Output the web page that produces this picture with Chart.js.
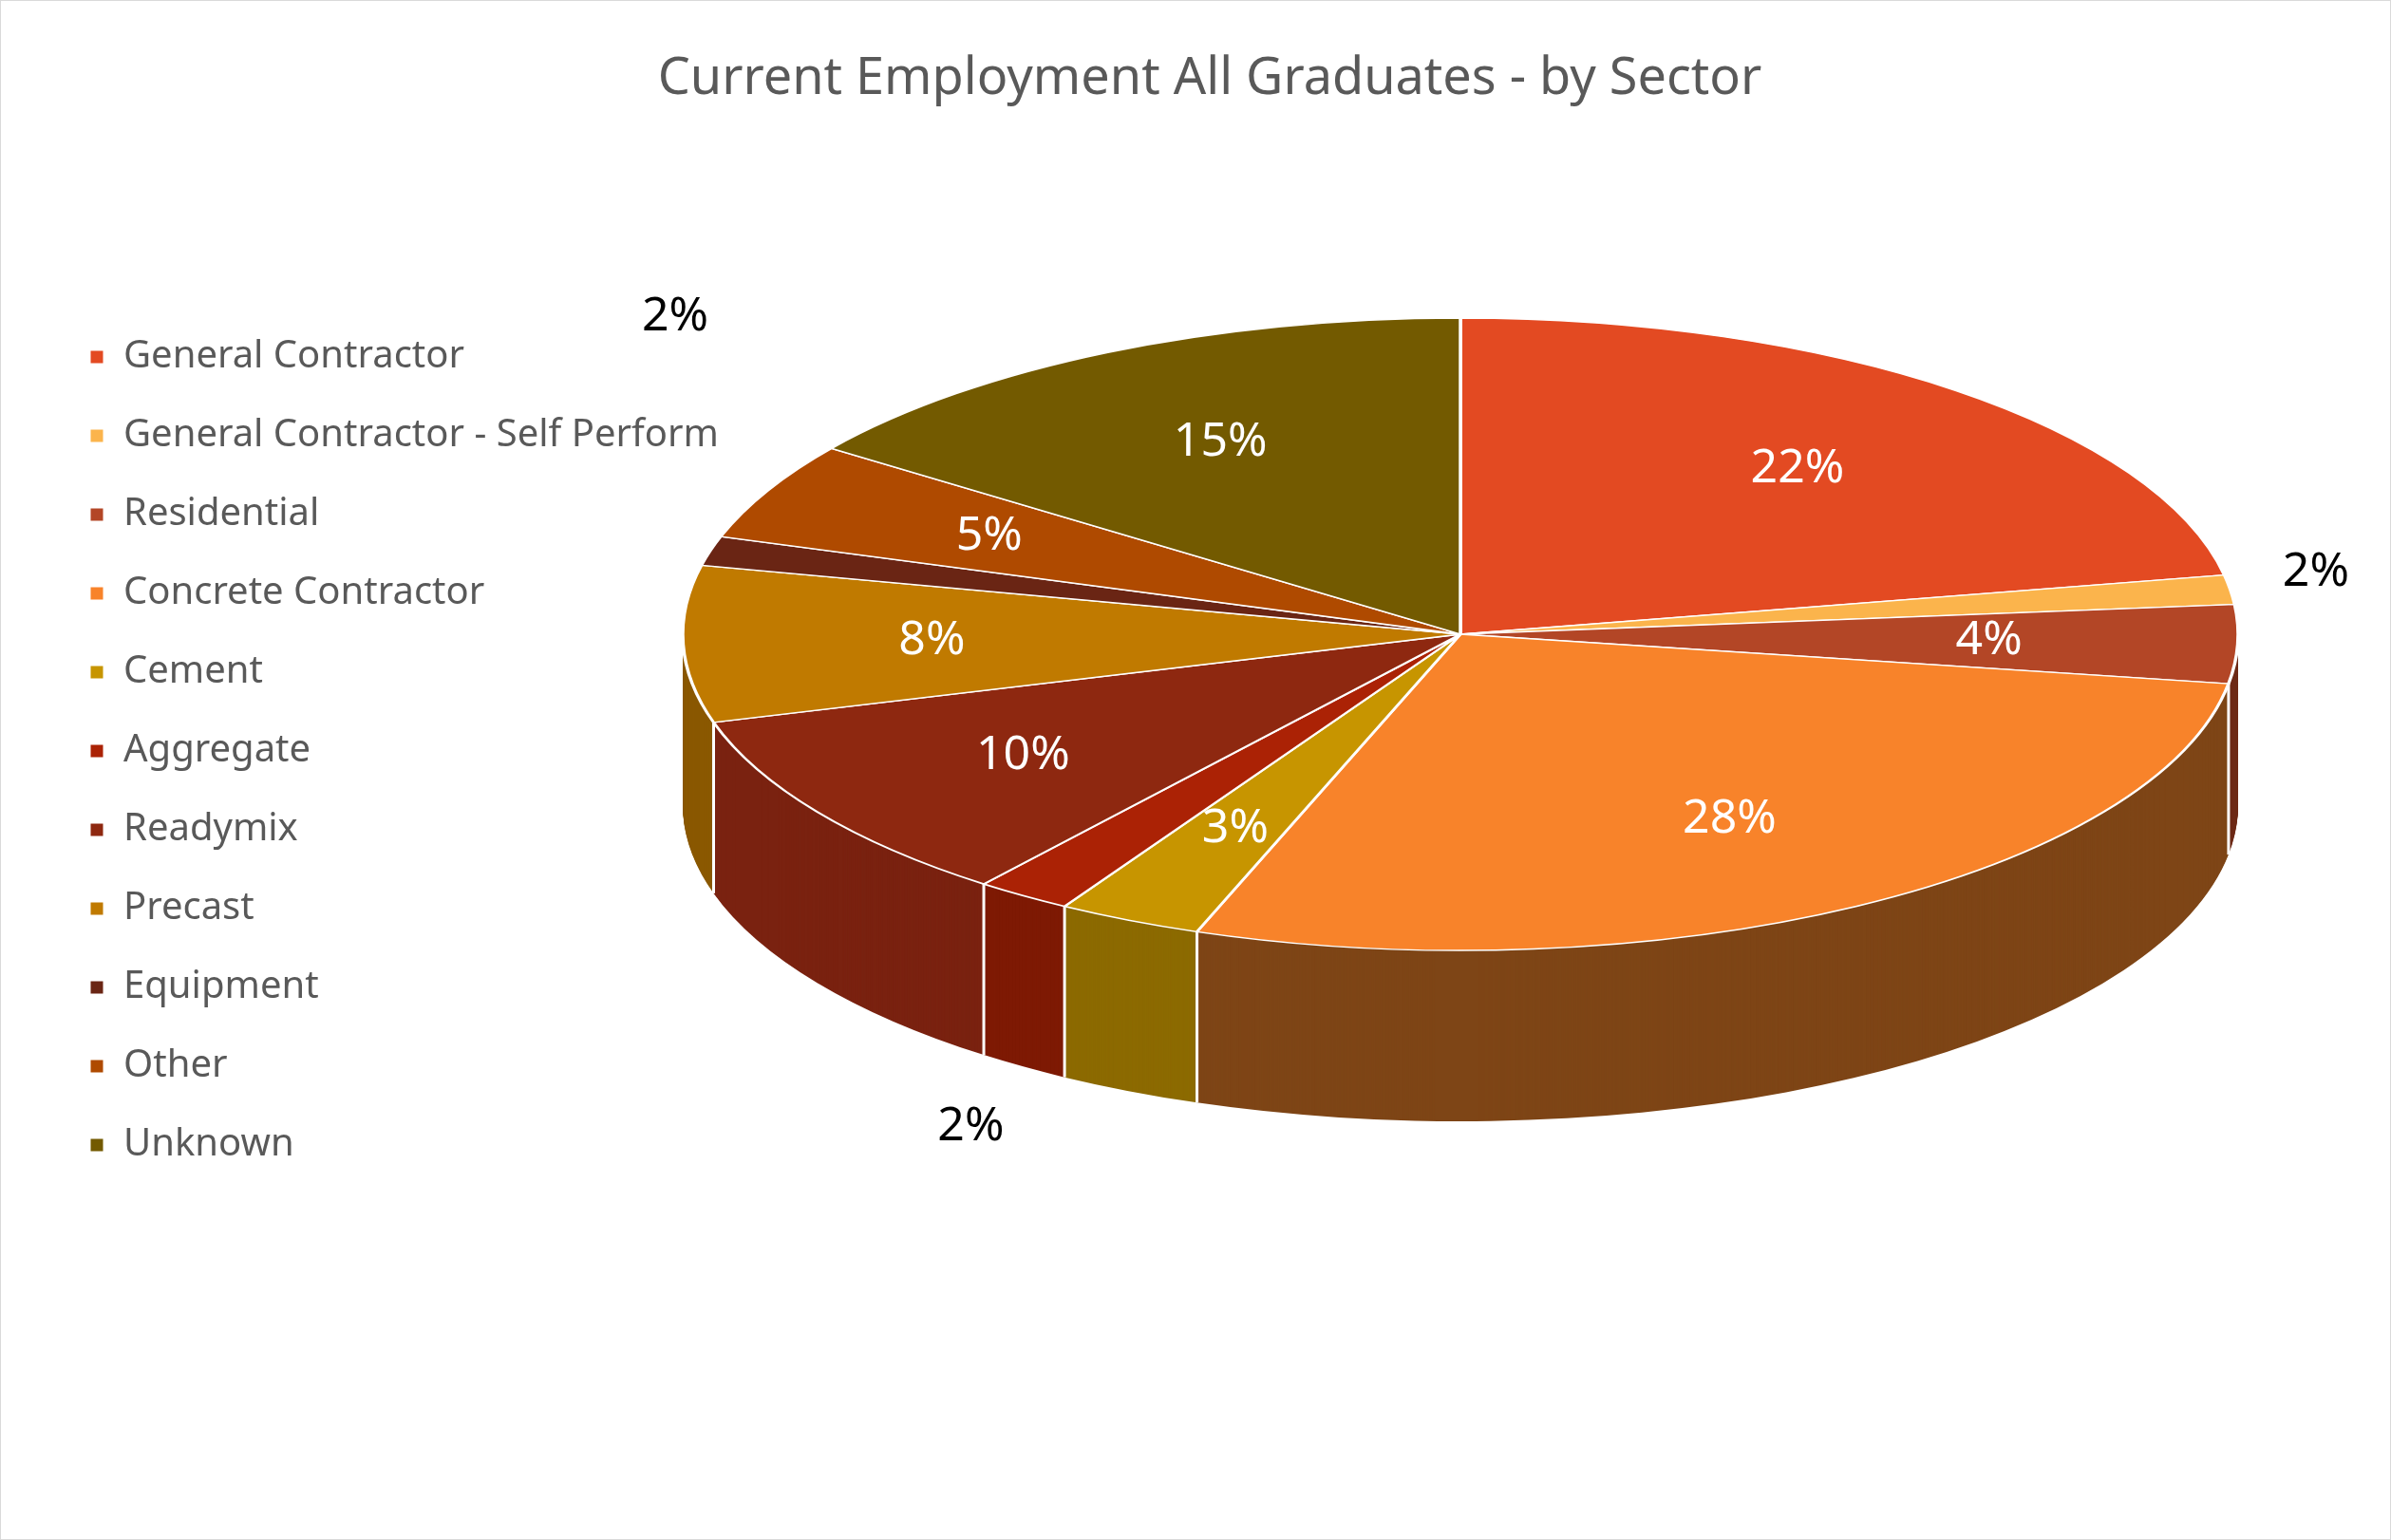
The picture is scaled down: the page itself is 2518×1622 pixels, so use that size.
<!DOCTYPE html>
<html><head><meta charset="utf-8">
<script src="https://cdn.jsdelivr.net/npm/chart.js@4/dist/chart.umd.min.js"></script>
<style>html,body{margin:0;padding:0;background:#fff}#wrap{position:absolute;left:0;top:0;width:2516px;height:1620px;border:1px solid #d9d9d9}</style>
</head><body><div id="wrap"><canvas id="c" width="2516" height="1620"></canvas></div>
<script>
const categories=["General Contractor","General Contractor - Self Perform","Residential","Concrete Contractor","Cement","Aggregate","Readymix","Precast","Equipment","Other","Unknown"];
const shares=[22,1.5,4,28,3,2,10,8,1.5,5,15];
const colors=["#E34A22","#FBB44C","#B34626","#F8832A","#C79500","#AB2205","#8E2810","#C07A00","#6A2514","#AF4A00","#735A00"];
const sideColors=["#8A2E14","#9A6E2E","#6E2B17","#7E4516","#8C6A00","#7E1A04","#7A2210","#8A5800","#4A1A0E","#7A3400","#4E3E00"];
const E={x:1537,y:667,rx:819,ry:333,depth:180};
function mapT(ctx,el){ctx.translate(E.x,E.y);ctx.scale(E.rx/el.outerRadius,E.ry/el.outerRadius);ctx.translate(-el.x,-el.y);}
const pie3d={id:'pie3d',
beforeDatasetsDraw(chart){const ctx=chart.ctx;const els=chart.getDatasetMeta(0).data;
 for(let d=E.depth;d>=1;d--){ctx.save();ctx.translate(0,d);mapT(ctx,els[0]);
  els.forEach((el,i)=>{ctx.beginPath();ctx.moveTo(el.x,el.y);ctx.arc(el.x,el.y,el.outerRadius,el.startAngle,el.endAngle);ctx.closePath();ctx.fillStyle=sideColors[i];ctx.fill();});
  ctx.restore();}
 ctx.save();ctx.strokeStyle='#fff';ctx.lineWidth=3;
 els.forEach(el=>{const a=el.startAngle;const s=Math.sin(a);if(s>0){const px=E.x+E.rx*Math.cos(a),py=E.y+E.ry*s;ctx.beginPath();ctx.moveTo(px,py);ctx.lineTo(px,py+E.depth);ctx.stroke();}});
 ctx.restore();
 ctx.save();mapT(ctx,els[0]);},
afterDatasetsDraw(chart){const ctx=chart.ctx;ctx.restore();const els=chart.getDatasetMeta(0).data;
 ctx.save();ctx.font='50px "Noto Sans"';ctx.textAlign='center';ctx.textBaseline='middle';
 els.forEach((el,i)=>{const a=(el.startAngle+el.endAngle)/2;const lab=Math.round(shares[i])+'%';
  let f=0.68,col='#fff',dy=0;
  if(shares[i]<=2){f=1.12;col='#000';if(Math.sin(a)>0)dy=E.depth+30;}
  let px=E.x+E.rx*f*Math.cos(a),py=E.y+E.ry*f*Math.sin(a)+dy;
  if(i===1){px=E.x+E.rx*1.1;py=E.y-65;}
  if(i===8){px=710;py=333;}
  ctx.fillStyle=col;ctx.fillText(lab,px,py);});
 ctx.restore();}};
new Chart(document.getElementById('c'),{type:'pie',
data:{labels:categories,datasets:[{data:shares,backgroundColor:colors,borderColor:'#fff',borderWidth:3}]},
options:{responsive:false,devicePixelRatio:1,animation:false,rotation:0,
 layout:{padding:{left:50,top:20,bottom:60,right:20}},
 plugins:{tooltip:{enabled:false},
  title:{display:true,text:'Current Employment All Graduates - by Sector',color:'#595959',font:{family:'"Noto Sans"',size:54,weight:'normal'},padding:{top:30,bottom:40}},
  legend:{position:'left',align:'center',labels:{color:'#595959',font:{family:'"Noto Sans"',size:40},boxWidth:16,boxHeight:16,padding:43}}}},
plugins:[pie3d]});
</script></body></html>
